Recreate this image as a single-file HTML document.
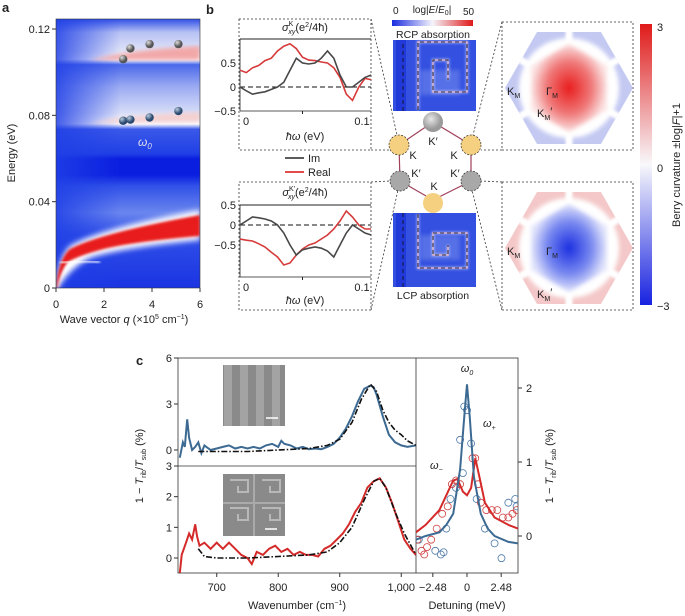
<!DOCTYPE html>
<html><head><meta charset="utf-8">
<style>
body{margin:0;background:#fff;}
svg{display:block;font-family:"Liberation Sans",sans-serif;}
text{fill:#222;}
</style></head>
<body>
<svg id="fig" width="685" height="616" viewBox="0 0 685 616" xmlns="http://www.w3.org/2000/svg">
<defs>
  <filter id="blur3"><feGaussianBlur stdDeviation="3"/></filter>
  <filter id="blur2"><feGaussianBlur stdDeviation="2"/></filter>
  <filter id="blur1"><feGaussianBlur stdDeviation="1.2"/></filter>
  <clipPath id="clipA"><rect x="56" y="19" width="144" height="269"/></clipPath>
  <clipPath id="clipB1"><rect x="240" y="39" width="131" height="72"/></clipPath>
  <clipPath id="clipB2"><rect x="240" y="205" width="131" height="72"/></clipPath>
  <clipPath id="clipC1"><rect x="178" y="358" width="238" height="108"/></clipPath>
  <clipPath id="clipC2"><rect x="178" y="466" width="238" height="107"/></clipPath>
  <clipPath id="clipC3"><rect x="416" y="358" width="102" height="215"/></clipPath>
  <clipPath id="hexTop"><path d="M505,88 L537,32 L601,32 L633,88 L601,144 L537,144Z"/></clipPath>
  <clipPath id="hexBot"><path d="M505,248 L537,192 L601,192 L633,248 L601,304 L537,304Z"/></clipPath>
  <linearGradient id="aBase" x1="0" y1="0" x2="0" y2="1">
    <stop offset="0" stop-color="#3050e6"/>
    <stop offset="0.05" stop-color="#b8c2f4"/>
    <stop offset="0.12" stop-color="#e0e4f8"/>
    <stop offset="0.15" stop-color="#ffffff"/>
    <stop offset="0.17" stop-color="#4a68ea"/>
    <stop offset="0.25" stop-color="#9aaaf2"/>
    <stop offset="0.35" stop-color="#d8def8"/>
    <stop offset="0.39" stop-color="#ffffff"/>
    <stop offset="0.41" stop-color="#3a58e8"/>
    <stop offset="0.5" stop-color="#2040e6"/>
    <stop offset="0.52" stop-color="#0a1ee0"/>
    <stop offset="0.58" stop-color="#0a1ee0"/>
    <stop offset="0.62" stop-color="#3050e8"/>
    <stop offset="0.72" stop-color="#6a86ee"/>
    <stop offset="0.8" stop-color="#3050e8"/>
    <stop offset="1" stop-color="#1a34e2"/>
  </linearGradient>
  <linearGradient id="aFade" x1="0" y1="0" x2="1" y2="0">
    <stop offset="0" stop-color="#2040e6" stop-opacity="0.85"/>
    <stop offset="0.45" stop-color="#2040e6" stop-opacity="0"/>
  </linearGradient>
  <linearGradient id="cbE" x1="0" y1="0" x2="1" y2="0">
    <stop offset="0" stop-color="#1a2be0"/><stop offset="0.5" stop-color="#f4f4fb"/><stop offset="1" stop-color="#e01818"/>
  </linearGradient>
  <linearGradient id="cbB" x1="0" y1="0" x2="0" y2="1">
    <stop offset="0" stop-color="#e01a1a"/><stop offset="0.5" stop-color="#f8f8fb"/><stop offset="1" stop-color="#1822e0"/>
  </linearGradient>
  <radialGradient id="bzRed"><stop offset="0" stop-color="#e81c1c"/><stop offset="0.6" stop-color="#f07a7a"/><stop offset="1" stop-color="#fbe4e4"/></radialGradient>
  <radialGradient id="bzBlue"><stop offset="0" stop-color="#1a2ee0"/><stop offset="0.6" stop-color="#7a8af0"/><stop offset="1" stop-color="#e4e6fb"/></radialGradient>
  <radialGradient id="nodeG" cx="0.4" cy="0.35"><stop offset="0" stop-color="#e8e8e8"/><stop offset="1" stop-color="#9a9a9a"/></radialGradient>
  <radialGradient id="ballGray" cx="0.35" cy="0.3"><stop offset="0" stop-color="#ddd"/><stop offset="1" stop-color="#555"/></radialGradient>
  <radialGradient id="ballBlue" cx="0.35" cy="0.3"><stop offset="0" stop-color="#bcd"/><stop offset="1" stop-color="#2a4a70"/></radialGradient>
  <pattern id="semStripe" width="16" height="10" patternUnits="userSpaceOnUse">
    <rect width="16" height="10" fill="#8a8a8a"/><rect width="8" height="10" fill="#a3a3a3"/>
  </pattern>
</defs>

<!-- ===== Panel a ===== -->
<text x="2" y="12" font-size="13" font-weight="bold">a</text>
<g clip-path="url(#clipA)">
  <rect x="56" y="19" width="144" height="269" fill="url(#aBase)"/>
  <rect x="56" y="19" width="144" height="269" fill="url(#aFade)"/>
  <path d="M90,60 Q130,50 200,46 L200,60 Z" fill="#f2a8a8" filter="url(#blur2)"/>
  <path d="M75,60 L200,60" stroke="#fff" stroke-width="2.5" filter="url(#blur1)"/>
  <path d="M90,123 Q130,115 200,112 L200,122 Z" fill="#f4d0d0" filter="url(#blur2)"/>
  <path d="M65,123 L200,123" stroke="#fff" stroke-width="2.5" filter="url(#blur1)"/>
  <path d="M56,288 Q58,258 70,246 Q100,228 200,210 L200,240 Q120,248 90,258 Q70,268 58,288Z" fill="#fff" filter="url(#blur3)"/>
  <path d="M56,287 Q59,258 70,249 Q100,233 200,215 L200,236 Q130,242 100,250 Q78,256 68,262 Q61,270 58,288Z" fill="#e81e1e" filter="url(#blur1)"/>
  <path d="M60,263 Q80,260 100,262" stroke="#fff" stroke-width="2" fill="none" filter="url(#blur1)"/>
  <path d="M58,288 Q62,268 75,262" stroke="#fff" stroke-width="1.5" fill="none" filter="url(#blur1)"/>
</g>
<rect x="56" y="19" width="144" height="269" fill="none" stroke="#333" stroke-width="0.6"/>
<g id="aPoints"></g>
<text x="138" y="146" font-size="12" font-style="italic" style="fill:#dde">ω<tspan font-size="8" dy="3">0</tspan></text>
<g id="aAxes"></g>
<text x="15" y="153" font-size="11" transform="rotate(-90 15 153)" text-anchor="middle">Energy (eV)</text>
<text x="124" y="323" font-size="11" text-anchor="middle">Wave vector <tspan font-style="italic">q</tspan> (×10<tspan font-size="7" dy="-4">5</tspan><tspan dy="4"> cm</tspan><tspan font-size="7" dy="-4">−1</tspan><tspan dy="4">)</tspan></text>

<!-- ===== Panel b ===== -->
<text x="206" y="14" font-size="13" font-weight="bold">b</text>
<rect x="239" y="19" width="132" height="131" fill="none" stroke="#333" stroke-width="0.8" stroke-dasharray="2,2"/>
<rect x="239" y="182" width="132" height="128" fill="none" stroke="#333" stroke-width="0.8" stroke-dasharray="2,2"/>
<rect x="502" y="22" width="131" height="128" fill="none" stroke="#333" stroke-width="0.8" stroke-dasharray="2,2"/>
<rect x="502" y="182" width="131" height="128" fill="none" stroke="#333" stroke-width="0.8" stroke-dasharray="2,2"/>
<g stroke="#333" stroke-width="0.8" stroke-dasharray="2,2" fill="none">
  <line x1="371" y1="19" x2="397" y2="135"/><line x1="371" y1="150" x2="390" y2="150"/>
  <line x1="371" y1="182" x2="390" y2="181"/><line x1="371" y1="310" x2="398" y2="190"/>
  <line x1="502" y1="22" x2="473" y2="135"/><line x1="502" y1="150" x2="481" y2="150"/>
  <line x1="502" y1="182" x2="481" y2="181"/><line x1="502" y1="310" x2="472" y2="190"/>
</g>
<text x="305" y="31" font-size="11" text-anchor="middle"><tspan font-style="italic">σ</tspan><tspan font-size="7" dy="-5">K</tspan><tspan font-size="7" dy="8" dx="-5" font-style="italic">xy</tspan><tspan dy="-3">(e</tspan><tspan font-size="7" dy="-4">2</tspan><tspan dy="4">/4ħ)</tspan></text>
<text x="305" y="196" font-size="11" text-anchor="middle"><tspan font-style="italic">σ</tspan><tspan font-size="7" dy="-5">K′</tspan><tspan font-size="7" dy="8" dx="-7" font-style="italic">xy</tspan><tspan dy="-3">(e</tspan><tspan font-size="7" dy="-4">2</tspan><tspan dy="4">/4ħ)</tspan></text>
<g id="bPlots"></g>
<text x="305" y="140" font-size="11" text-anchor="middle"><tspan font-style="italic">ħω</tspan> (eV)</text>
<text x="305" y="304" font-size="11" text-anchor="middle"><tspan font-style="italic">ħω</tspan> (eV)</text>
<g>
  <line x1="285" y1="158" x2="304" y2="158" stroke="#444" stroke-width="1.8"/>
  <text x="308" y="162" font-size="11">Im</text>
  <line x1="285" y1="172" x2="304" y2="172" stroke="#d33" stroke-width="1.8"/>
  <text x="308" y="176" font-size="11">Real</text>
</g>
<text x="393" y="14" font-size="10">0</text>
<text x="432" y="13" font-size="10" text-anchor="middle">log|<tspan font-style="italic">E</tspan>/<tspan font-style="italic">E</tspan><tspan font-size="7" dy="2">0</tspan><tspan dy="-2">|</tspan></text>
<text x="463" y="15" font-size="10">50</text>
<rect x="392" y="20" width="81" height="6" fill="url(#cbE)"/>
<text x="433" y="38" font-size="10.5" text-anchor="middle">RCP absorption</text>
<text x="433" y="299" font-size="10.5" text-anchor="middle">LCP absorption</text>
<g>
  <rect x="393" y="40" width="83" height="71" fill="#3350e0"/>
  <rect x="396" y="40" width="10" height="71" fill="#1a2fd4" opacity="0.7"/>
  <rect x="420" y="70" width="40" height="25" fill="#7a90ee" opacity="0.5" filter="url(#blur2)"/>
  <path d="M418,110 L418,42 L467,42 L467,92 L433,92 L433,60 L448,60 L448,80" fill="none" stroke="#c8d0fa" stroke-width="3" opacity="0.6" filter="url(#blur1)"/>
  <path d="M418,110 L418,42 L467,42 L467,92 L433,92 L433,60 L448,60 L448,80" fill="none" stroke="#f0b8c8" stroke-width="1.2"/>
  <path d="M403,111 L403,41 M418,110 L418,42 L467,42 L467,92 L433,92 L433,60 L448,60 L448,80" fill="none" stroke="#111" stroke-width="0.8" stroke-dasharray="4,3"/>
</g>
<g>
  <rect x="393" y="213" width="83" height="74" fill="#3350e0"/>
  <rect x="396" y="213" width="10" height="74" fill="#1a2fd4" opacity="0.7"/>
  <rect x="420" y="235" width="40" height="25" fill="#7a90ee" opacity="0.5" filter="url(#blur2)"/>
  <path d="M418,214 L418,268 L467,268 L467,233 L433,233 L433,255 L448,255 L448,245" fill="none" stroke="#c8d0fa" stroke-width="3" opacity="0.6" filter="url(#blur1)"/>
  <path d="M418,214 L418,268 L467,268 L467,233 L433,233 L433,255 L448,255 L448,245" fill="none" stroke="#f0b8c8" stroke-width="1.2"/>
  <path d="M403,213 L403,287 M418,214 L418,268 L467,268 L467,233 L433,233 L433,255 L448,255 L448,245" fill="none" stroke="#111" stroke-width="0.8" stroke-dasharray="4,3"/>
</g>
<g>
  <path d="M433,122 L471,145 L471,181 L433,200 L400,181 L399,145Z" fill="none" stroke="#a0405a" stroke-width="1.2"/>
  <circle cx="433" cy="122" r="10" fill="url(#nodeG)"/>
  <circle cx="399" cy="145" r="10" fill="#f5d080" stroke="#333" stroke-width="0.7" stroke-dasharray="2,1.5"/>
  <circle cx="471" cy="145" r="10" fill="#f5d080" stroke="#333" stroke-width="0.7" stroke-dasharray="2,1.5"/>
  <circle cx="400" cy="181" r="10" fill="#a8a8a8" stroke="#333" stroke-width="0.7" stroke-dasharray="2,1.5"/>
  <circle cx="471" cy="181" r="10" fill="#a8a8a8" stroke="#333" stroke-width="0.7" stroke-dasharray="2,1.5"/>
  <circle cx="433" cy="203" r="10" fill="#f5d080"/>
  <text x="433" y="145" font-size="11" text-anchor="middle">K′</text>
  <text x="413" y="159" font-size="11" text-anchor="middle">K</text>
  <text x="454" y="159" font-size="11" text-anchor="middle">K</text>
  <text x="416" y="177" font-size="11" text-anchor="middle">K′</text>
  <text x="455" y="177" font-size="11" text-anchor="middle">K′</text>
  <text x="434" y="190" font-size="11" text-anchor="middle">K</text>
</g>
<g>
  <g clip-path="url(#hexTop)">
    <rect x="505" y="32" width="128" height="112" fill="#c4c9f2"/>
    <g stroke="#fff" stroke-width="7" filter="url(#blur1)">
      <line x1="569" y1="88" x2="569" y2="20"/><line x1="569" y1="88" x2="569" y2="156"/>
      <line x1="569" y1="88" x2="640" y2="47"/><line x1="569" y1="88" x2="498" y2="47"/>
      <line x1="569" y1="88" x2="640" y2="129"/><line x1="569" y1="88" x2="498" y2="129"/>
    </g>
    <circle cx="569" cy="88" r="50" fill="#fff" filter="url(#blur2)"/>
    <path d="M569,44 L607,66 L607,110 L569,132 L531,110 L531,66Z" fill="url(#bzRed)" filter="url(#blur2)"/>
  </g>
  <text x="507" y="95" font-size="11">K<tspan font-size="7" dy="3">M</tspan></text>
  <text x="546" y="95" font-size="11">Γ<tspan font-size="7" dy="3">M</tspan></text>
  <text x="537" y="117" font-size="11">K<tspan font-size="7" dy="3">M</tspan><tspan dy="-5">′</tspan></text>
</g>
<g>
  <g clip-path="url(#hexBot)">
    <rect x="505" y="192" width="128" height="112" fill="#f4c8c8"/>
    <g stroke="#fff" stroke-width="7" filter="url(#blur1)">
      <line x1="569" y1="248" x2="569" y2="180"/><line x1="569" y1="248" x2="569" y2="316"/>
      <line x1="569" y1="248" x2="640" y2="207"/><line x1="569" y1="248" x2="498" y2="207"/>
      <line x1="569" y1="248" x2="640" y2="289"/><line x1="569" y1="248" x2="498" y2="289"/>
    </g>
    <circle cx="569" cy="248" r="50" fill="#fff" filter="url(#blur2)"/>
    <path d="M569,204 L607,226 L607,270 L569,292 L531,270 L531,226Z" fill="url(#bzBlue)" filter="url(#blur2)"/>
  </g>
  <text x="507" y="255" font-size="11">K<tspan font-size="7" dy="3">M</tspan></text>
  <text x="546" y="255" font-size="11">Γ<tspan font-size="7" dy="3">M</tspan></text>
  <text x="537" y="298" font-size="11">K<tspan font-size="7" dy="3">M</tspan><tspan dy="-5">′</tspan></text>
</g>
<rect x="640" y="24" width="12" height="281" fill="url(#cbB)"/>
<text x="657" y="31" font-size="11">3</text>
<text x="657" y="172" font-size="11">0</text>
<text x="657" y="310" font-size="11">−3</text>
<text x="680" y="165" font-size="11" transform="rotate(-90 680 165)" text-anchor="middle">Berry curvature ±log|<tspan font-style="italic">F</tspan>|+1</text>

<!-- ===== Panel c ===== -->
<text x="136" y="365" font-size="13" font-weight="bold">c</text>
<g>
  <rect x="223" y="365" width="62" height="61" fill="url(#semStripe)"/>
  <line x1="266" y1="418" x2="278" y2="418" stroke="#fff" stroke-width="1.5"/>
</g>
<g>
  <rect x="223" y="474" width="62" height="62" fill="#8a8a8a"/>
  <path d="M230,480 h18 v12 h-10 v-6 M262,480 h18 v12 h-10 v-6 M230,508 h18 v12 h-10 v-6 M262,508 h18 v12 h-10 v-6" stroke="#b8b8b8" stroke-width="2" fill="none"/>
  <line x1="254" y1="474" x2="254" y2="536" stroke="#aaa" stroke-width="2"/>
  <line x1="223" y1="503" x2="285" y2="503" stroke="#aaa" stroke-width="2"/>
  <line x1="265" y1="529" x2="277" y2="529" stroke="#fff" stroke-width="1.5"/>
</g>
<g id="cPlots"></g>
<text x="467" y="372" font-size="11" font-style="italic" text-anchor="middle">ω<tspan font-size="7" dy="3">0</tspan></text>
<text x="483" y="427" font-size="11" font-style="italic">ω<tspan font-size="7" dy="3">+</tspan></text>
<text x="430" y="469" font-size="11" font-style="italic">ω<tspan font-size="7" dy="3">−</tspan></text>
<text x="143" y="466" font-size="11" transform="rotate(-90 143 466)" text-anchor="middle">1 − <tspan font-style="italic">T</tspan><tspan font-size="7" dy="3">rib</tspan><tspan dy="-3">/</tspan><tspan font-style="italic">T</tspan><tspan font-size="7" dy="3">sub</tspan><tspan dy="-3"> (%)</tspan></text>
<text x="553" y="466" font-size="11" transform="rotate(-90 553 466)" text-anchor="middle">1 − <tspan font-style="italic">T</tspan><tspan font-size="7" dy="3">rib</tspan><tspan dy="-3">/</tspan><tspan font-style="italic">T</tspan><tspan font-size="7" dy="3">sub</tspan><tspan dy="-3"> (%)</tspan></text>
<text x="297" y="609" font-size="11" text-anchor="middle">Wavenumber (cm<tspan font-size="7" dy="-4">−1</tspan><tspan dy="4">)</tspan></text>
<text x="467" y="609" font-size="11" text-anchor="middle">Detuning (meV)</text>
</svg>

<script>
// ---- Panel a data ----
const aTicksX = [0, 2, 4, 6];
const aTicksY = [0, 0.04, 0.08, 0.12];
const aUpperQ = [2.8, 3.1, 3.9, 5.1];
const aUpperE = [0.106, 0.111, 0.113, 0.113];
const aLowerQ = [2.8, 3.1, 3.9, 5.1];
const aLowerE = [0.0775, 0.078, 0.079, 0.082];
// ---- Panel b data ----
const bX = [0, 0.005, 0.01, 0.015, 0.02, 0.025, 0.03, 0.035, 0.04, 0.045, 0.05, 0.055, 0.06, 0.065, 0.07, 0.075, 0.08, 0.085, 0.09, 0.095, 0.1, 0.105];
const bKReal = [0.35, 0.3, 0.4, 0.45, 0.55, 0.6, 0.75, 0.85, 0.9, 0.8, 0.62, 0.56, 0.55, 0.52, 0.5, 0.4, 0.2, -0.15, -0.28, 0.0, 0.18, 0.15];
const bKIm = [0.0, -0.08, -0.15, -0.12, -0.1, -0.05, 0.0, 0.1, 0.35, 0.6, 0.5, 0.48, 0.5, 0.6, 0.75, 0.6, 0.25, 0.0, 0.0, 0.1, 0.2, 0.25];
const bKpReal = [-0.35, -0.38, -0.4, -0.47, -0.55, -0.68, -0.8, -1.0, -0.95, -0.75, -0.6, -0.5, -0.45, -0.35, -0.25, -0.1, 0.1, 0.35, 0.2, 0.0, -0.1, -0.1];
const bKpIm = [0.0, 0.1, 0.2, 0.18, 0.15, 0.1, 0.0, -0.2, -0.5, -0.75, -0.62, -0.58, -0.55, -0.58, -0.65, -0.8, -0.5, -0.2, 0.0, -0.1, -0.2, -0.25];
const bTicksY = [0.5, 0, -0.5];
// ---- Panel c data ----
const cTopX = [640,645,648,652,655,660,665,670,675,680,690,700,710,720,730,740,750,760,770,780,790,800,805,810,820,830,840,850,860,870,880,890,900,910,920,930,940,950,955,960,970,980,990,1000,1010,1024];
const cTopY = [-0.5,0.5,0.2,2.0,0.8,0.0,0.2,0.5,-0.2,0.3,0.0,0.1,0.2,0.3,0.1,0.2,0.1,0.2,0.1,0.3,0.4,0.2,0.6,0.4,0.3,0.1,0.2,0.05,0.1,0.05,0.2,0.4,0.8,1.4,2.2,3.2,4.0,4.2,4.1,3.6,2.2,1.0,0.5,0.3,0.2,0.3];
const cTopFitX = [670,700,750,800,850,880,900,920,935,950,960,970,980,990,1000,1010,1024];
const cTopFitY = [-0.1,-0.1,-0.1,0,0.1,0.3,0.7,1.8,3.3,4.3,3.8,2.6,1.8,1.3,1.0,0.6,0.3];
const cBotX = [640,643,650,655,660,665,668,672,680,690,700,710,720,730,740,750,757,765,775,785,795,805,815,825,835,845,855,865,875,885,895,905,915,925,935,945,955,965,975,985,995,1005,1015,1024];
const cBotY = [-0.5,0.1,0.5,0.8,0.6,1.1,0.7,0.4,0.5,0.3,0.5,0.3,0.5,0.3,0.1,0.0,-0.2,0.2,0.1,0.3,0.4,0.2,0.3,0.1,0.2,0.1,0.1,0.05,0.3,0.4,0.6,0.8,1.1,1.5,1.8,2.3,2.5,2.6,2.3,1.8,1.2,0.6,0.3,0.1];
const cBotFitX = [670,680,700,750,800,850,880,900,920,940,955,965,975,990,1005,1024];
const cBotFitY = [0.3,0.05,0,0,0.05,0.1,0.2,0.5,1.0,1.9,2.5,2.6,2.3,1.5,0.8,0.1];
const dX = [-3.7,-3,-2,-1.5,-1,-0.5,-0.2,0,0.2,0.5,1,1.5,2,3,3.7];
const dBlue = [-0.05,0,0.05,0.15,0.3,0.9,1.6,2.05,1.6,0.8,0.3,0.1,0.0,-0.08,-0.1];
const dRedX = [-3.7,-3,-2,-1.5,-1,-0.7,-0.3,0,0.3,0.6,0.9,1.3,2,3,3.7];
const dRed = [0.05,0.15,0.35,0.55,0.75,0.77,0.6,0.55,0.65,1.05,0.8,0.45,0.25,0.15,0.1];
const dBlueCx = [-0.2,0,-0.5,0.3,-0.3,-0.8,-1.2,-1.5,-2.3,-1.9,-1.7,0.7,1.3,2,2.5,3,3.5,3.6,-3.5];
const dBlueCy = [1.75,1.7,1.3,1.25,0.85,0.65,0.5,0.1,-0.2,-0.25,-0.22,0.5,0.1,-0.1,-0.3,0.45,0.5,0.4,-0.05];
const dRedCx = [-3.6,-3.3,-3.1,-2.9,-2.6,-2.2,-1.8,-1.4,-1.1,-0.8,-0.5,0.4,0.6,0.8,1.0,1.4,1.8,2.2,2.6,3.0,3.3,3.6];
const dRedCy = [-0.05,-0.2,-0.25,-0.15,-0.05,0.1,0.3,0.4,0.7,0.75,0.7,1.05,1.05,0.7,0.45,0.35,0.35,0.35,0.25,0.25,0.3,0.35];
const cTopTicks = [0, 3, 6];
const cBotTicks = [0, 1, 2, 3];
const cXTicks = [700, 800, 900, 1000];
const cXTickLabels = ["700", "800", "900", "1,000"];
const dXTicks = [-2.48, 0, 2.48];
const dXTickLabels = ["−2.48", "0", "2.48"];
const dYTicks = [0, 1, 2];

const NS = "http://www.w3.org/2000/svg";
function mk(tag, attrs, parent) {
  const e = document.createElementNS(NS, tag);
  for (const k in attrs) e.setAttribute(k, attrs[k]);
  parent.appendChild(e);
  return e;
}
function lin(d0, d1, r0, r1) { return v => r0 + (v - d0) / (d1 - d0) * (r1 - r0); }
function pathD(xs, ys, sx, sy) { return xs.map((x, i) => (i ? "L" : "M") + sx(x).toFixed(1) + "," + sy(ys[i]).toFixed(1)).join(" "); }

// Panel a
const aSX = lin(0, 6, 56, 200), aSY = lin(0, 0.12, 288, 29);
const aAx = document.getElementById("aAxes"), aPt = document.getElementById("aPoints");
aTicksX.forEach(v => {
  const t = mk("text", {x: aSX(v), y: 308, "font-size": 11, "text-anchor": "middle"}, aAx); t.textContent = v;
  
  
  mk("line", {x1: aSX(v), x2: aSX(v), y1: 288, y2: 292, stroke: "#333"}, aAx);
});
aTicksY.forEach(v => {
  const t = mk("text", {x: 50, y: aSY(v) + 4, "font-size": 11, "text-anchor": "end"}, aAx); t.textContent = v;
  
  
  mk("line", {x1: 52, x2: 56, y1: aSY(v), y2: aSY(v), stroke: "#333"}, aAx);
});
aUpperQ.forEach((q, i) => {
  const c = mk("circle", {cx: aSX(q), cy: aSY(aUpperE[i]), r: 4.2, fill: "url(#ballGray)"}, aPt);
  
  
});
aLowerQ.forEach((q, i) => {
  const c = mk("circle", {cx: aSX(q), cy: aSY(aLowerE[i]), r: 4.2, fill: "url(#ballBlue)"}, aPt);
  
  
});

// Panel b
const bP = document.getElementById("bPlots");
function sigmaPlot(top, zeroY, perUnit, clip, real, im, nm) {
  const sx = lin(0, 0.1, 240, 365), sy = v => zeroY - v * perUnit;
  mk("line", {x1: 240, x2: 371, y1: top, y2: top, stroke: "#222", "stroke-width": 1}, bP);
  mk("line", {x1: 240, x2: 240, y1: top, y2: top + 72, stroke: "#222", "stroke-width": 0.8}, bP);
  mk("line", {x1: 240, x2: 371, y1: top + 72, y2: top + 72, stroke: "#222", "stroke-width": 0.8}, bP);
  mk("line", {x1: 240, x2: 371, y1: zeroY, y2: zeroY, stroke: "#111", "stroke-width": 1, "stroke-dasharray": "5,3"}, bP);
  mk("line", {x1: sx(0.05), x2: sx(0.05), y1: top + 72, y2: top + 75, stroke: "#222"}, bP);
  bTicksY.forEach(v => {
    const t = mk("text", {x: 236, y: sy(v) + 4, "font-size": 11, "text-anchor": "end"}, bP);
    t.textContent = v === 0 ? "0" : (v < 0 ? "−0.5" : "0.5");
    
    
  });
  const t0 = mk("text", {x: 246, y: top + 86, "font-size": 11, "text-anchor": "middle"}, bP); t0.textContent = "0";
  
  
  const t1 = mk("text", {x: 362, y: top + 86, "font-size": 11, "text-anchor": "middle"}, bP); t1.textContent = "0.1";
  
  
  const g = mk("g", {"clip-path": clip}, bP);
  const pr = mk("path", {d: pathD(bX, real, sx, sy), fill: "none", stroke: "#d63a3a", "stroke-width": 1.6}, g);
  
  
  const pi = mk("path", {d: pathD(bX, im, sx, sy), fill: "none", stroke: "#484848", "stroke-width": 1.6}, g);
  
  
}
sigmaPlot(39, 87, 48, "url(#clipB1)", bKReal, bKIm, "sigma-k");
sigmaPlot(205, 225, 40, "url(#clipB2)", bKpReal, bKpIm, "sigma-kprime");

// Panel c
const cP = document.getElementById("cPlots");
const cSX = lin(637, 1024, 178, 416);
const cSY1 = lin(0, 6, 450, 358);
const cSY2 = lin(0, 3, 558, 466);
const dSX = lin(-3.7, 3.7, 416, 518);
const dSY = lin(0, 2, 536, 388);
mk("rect", {x: 178, y: 358, width: 340, height: 215, fill: "none", stroke: "#333", "stroke-width": 0.8}, cP);
mk("line", {x1: 178, x2: 416, y1: 466, y2: 466, stroke: "#333", "stroke-width": 0.8}, cP);
mk("line", {x1: 416, x2: 416, y1: 358, y2: 573, stroke: "#333", "stroke-width": 0.8}, cP);
cTopTicks.forEach(v => {
  const t = mk("text", {x: 172, y: cSY1(v) + 4, "font-size": 11, "text-anchor": "end"}, cP); t.textContent = v;
  
  
  mk("line", {x1: 174, x2: 178, y1: cSY1(v), y2: cSY1(v), stroke: "#333"}, cP);
});
cBotTicks.forEach(v => {
  const t = mk("text", {x: 172, y: cSY2(v) + 4, "font-size": 11, "text-anchor": "end"}, cP); t.textContent = v;
  
  
  mk("line", {x1: 174, x2: 178, y1: cSY2(v), y2: cSY2(v), stroke: "#333"}, cP);
});
cXTicks.forEach((v, i) => {
  const t = mk("text", {x: cSX(v), y: 591, "font-size": 11, "text-anchor": "middle"}, cP); t.textContent = cXTickLabels[i];
  
  
  mk("line", {x1: cSX(v), x2: cSX(v), y1: 573, y2: 577, stroke: "#333"}, cP);
});
dXTicks.forEach((v, i) => {
  const t = mk("text", {x: dSX(v), y: 591, "font-size": 11, "text-anchor": "middle"}, cP); t.textContent = dXTickLabels[i];
  
  
  mk("line", {x1: dSX(v), x2: dSX(v), y1: 573, y2: 577, stroke: "#333"}, cP);
});
dYTicks.forEach(v => {
  const t = mk("text", {x: 526, y: dSY(v) + 4, "font-size": 11}, cP); t.textContent = v;
  
  
  mk("line", {x1: 518, x2: 522, y1: dSY(v), y2: dSY(v), stroke: "#333"}, cP);
});
const g1 = mk("g", {"clip-path": "url(#clipC1)"}, cP);
const l1 = mk("path", {d: pathD(cTopX, cTopY, cSX, cSY1), fill: "none", stroke: "#3d6a92", "stroke-width": 2}, g1);


const f1 = mk("path", {d: pathD(cTopFitX, cTopFitY, cSX, cSY1), fill: "none", stroke: "#111", "stroke-width": 1.6, "stroke-dasharray": "6,2,1.5,2"}, g1);


const g2 = mk("g", {"clip-path": "url(#clipC2)"}, cP);
const l2 = mk("path", {d: pathD(cBotX, cBotY, cSX, cSY2), fill: "none", stroke: "#d42a2a", "stroke-width": 2}, g2);


const f2 = mk("path", {d: pathD(cBotFitX, cBotFitY, cSX, cSY2), fill: "none", stroke: "#111", "stroke-width": 1.6, "stroke-dasharray": "6,2,1.5,2"}, g2);


const g3 = mk("g", {"clip-path": "url(#clipC3)"}, cP);
dBlueCx.forEach((x, i) => {
  const c = mk("circle", {cx: dSX(x), cy: dSY(dBlueCy[i]), r: 3.5, fill: "none", stroke: "#4a78a8", "stroke-width": 0.8}, g3);
  
  
});
dRedCx.forEach((x, i) => {
  const c = mk("circle", {cx: dSX(x), cy: dSY(dRedCy[i]), r: 3.5, fill: "none", stroke: "#d04040", "stroke-width": 0.8}, g3);
  
  
});
const l3 = mk("path", {d: pathD(dRedX, dRed, dSX, dSY), fill: "none", stroke: "#d42a2a", "stroke-width": 2}, g3);


const l4 = mk("path", {d: pathD(dX, dBlue, dSX, dSY), fill: "none", stroke: "#3d6a92", "stroke-width": 2}, g3);


</script>
</body></html>
